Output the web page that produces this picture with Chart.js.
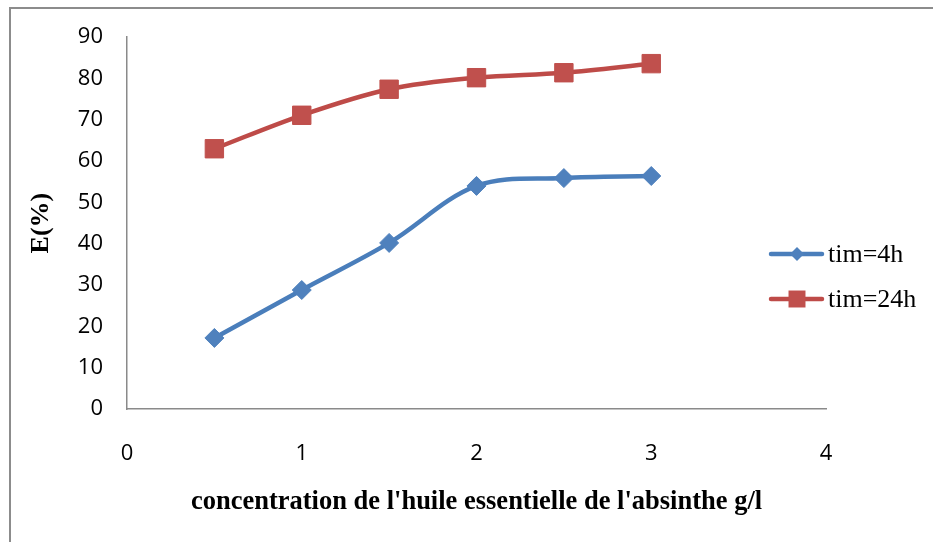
<!DOCTYPE html>
<html>
<head>
<meta charset="utf-8">
<script src="https://cdn.jsdelivr.net/npm/chart.js@4/dist/chart.umd.min.js"></script>
<style>
  html, body { margin: 0; padding: 0; background: #fff; overflow: hidden; }
  #wrap { position: relative; width: 933px; height: 542px; }
  #frame { position: absolute; left: 9px; top: 7px; width: 960px; height: 560px;
           border-left: 2px solid #8c8c8c; border-top: 2px solid #8c8c8c; pointer-events: none; }
  canvas { position: absolute; left: 0; top: 0; }
</style>
</head>
<body>
<div id="wrap">
  <canvas id="c" width="933" height="542"></canvas>
  <div id="frame"></div>
</div>
<script>
// Concentration of wormwood essential oil (g/l)
const concentrations = [0.5, 1, 1.5, 2, 2.5, 3];
// Efficiency E(%) after 4 h and 24 h
const tim4h  = [17.2, 28.8, 40.2, 54.0, 55.9, 56.4];
const tim24h = [63.0, 71.1, 77.4, 80.2, 81.4, 83.6];
const seriesNames = ['tim=4h', 'tim=24h'];
const xRange = [0, 4];
const yRange = [0, 90];

const BLUE_LINE = '#4a7ebb', BLUE_MARK = '#4f81bd';
const RED_LINE = '#be4b48', RED_MARK = '#c0504d';

const toPoints = ys => concentrations.map((x, i) => ({ x: x, y: ys[i] }));

// Legend drawn to the right, with a line segment and the series marker
const sideLegend = {
  id: 'sideLegend',
  afterDraw(chart) {
    const ctx = chart.ctx;
    const rows = [
      { y: 254, ds: chart.data.datasets[0], r: 7 },
      { y: 299, ds: chart.data.datasets[1], r: 12 }
    ];
    ctx.save();
    rows.forEach(row => {
      const ds = row.ds;
      ctx.strokeStyle = ds.borderColor;
      ctx.lineWidth = 4.5;
      ctx.lineCap = 'round';
      ctx.beginPath();
      ctx.moveTo(771, row.y);
      ctx.lineTo(822, row.y);
      ctx.stroke();
      ctx.fillStyle = ds.pointBackgroundColor;
      const cx = 797, cy = row.y;
      ctx.beginPath();
      if (ds.pointStyle === 'rectRot') {
        ctx.moveTo(cx - row.r, cy); ctx.lineTo(cx, cy - row.r);
        ctx.lineTo(cx + row.r, cy); ctx.lineTo(cx, cy + row.r);
        ctx.closePath();
      } else {
        const h = row.r * Math.SQRT1_2;
        ctx.rect(cx - h, cy - h, 2 * h, 2 * h);
      }
      ctx.fill();
      ctx.fillStyle = '#000';
      ctx.font = '26px "Liberation Serif", "Times New Roman", serif';
      ctx.textBaseline = 'middle';
      ctx.textAlign = 'left';
      ctx.fillText(ds.label, 828, row.y + 1);
    });
    ctx.restore();
  }
};

new Chart(document.getElementById('c'), {
  type: 'line',
  data: {
    datasets: [
      {
        label: seriesNames[0],
        data: toPoints(tim4h),
        borderColor: BLUE_LINE,
        backgroundColor: BLUE_MARK,
        pointBackgroundColor: BLUE_MARK,
        pointBorderColor: BLUE_MARK,
        pointBorderWidth: 1,
        pointStyle: 'rectRot',
        pointRadius: 9.5,
        borderWidth: 4.5,
        tension: 0.35
      },
      {
        label: seriesNames[1],
        data: toPoints(tim24h),
        borderColor: RED_LINE,
        backgroundColor: RED_MARK,
        pointBackgroundColor: RED_MARK,
        pointBorderColor: RED_MARK,
        pointBorderWidth: 1,
        pointStyle: 'rect',
        pointRadius: 13,
        borderWidth: 4.5,
        tension: 0.35
      }
    ]
  },
  options: {
    responsive: false,
    animation: false,
    layout: { padding: { top: 35, right: 107, left: 0, bottom: 0 } },
    plugins: {
      legend: { display: false },
      tooltip: { enabled: false }
    },
    scales: {
      x: {
        type: 'linear',
        min: xRange[0],
        max: xRange[1],
        afterFit(scale) { scale.height = 133; },
        ticks: { stepSize: 1, padding: 32, color: '#000',
                 font: { family: '"Open Sans", sans-serif', size: 22 } },
        grid: { display: false, drawTicks: false },
        border: { display: true, color: '#8a8a8a', width: 1.5 },
        title: {
          display: true,
          text: "concentration de l'huile essentielle de l'absinthe g/l",
          color: '#000',
          font: { family: '"Liberation Serif", "Times New Roman", serif', size: 26.5, weight: 'bold' },
          padding: { top: 0, bottom: 24 }
        }
      },
      y: {
        min: yRange[0],
        max: yRange[1],
        afterFit(scale) { scale.width = 127; },
        ticks: { stepSize: 10, padding: 24, color: '#000',
                 font: { family: '"Open Sans", sans-serif', size: 22 } },
        grid: { display: false, drawTicks: false },
        border: { display: true, color: '#8a8a8a', width: 1.5 },
        title: {
          display: true,
          text: 'E(%)',
          color: '#000',
          font: { family: '"Liberation Serif", "Times New Roman", serif', size: 26, weight: 'bold' },
          padding: { top: 26, bottom: 0 }
        }
      }
    }
  },
  plugins: [sideLegend]
});
</script>
</body>
</html>
